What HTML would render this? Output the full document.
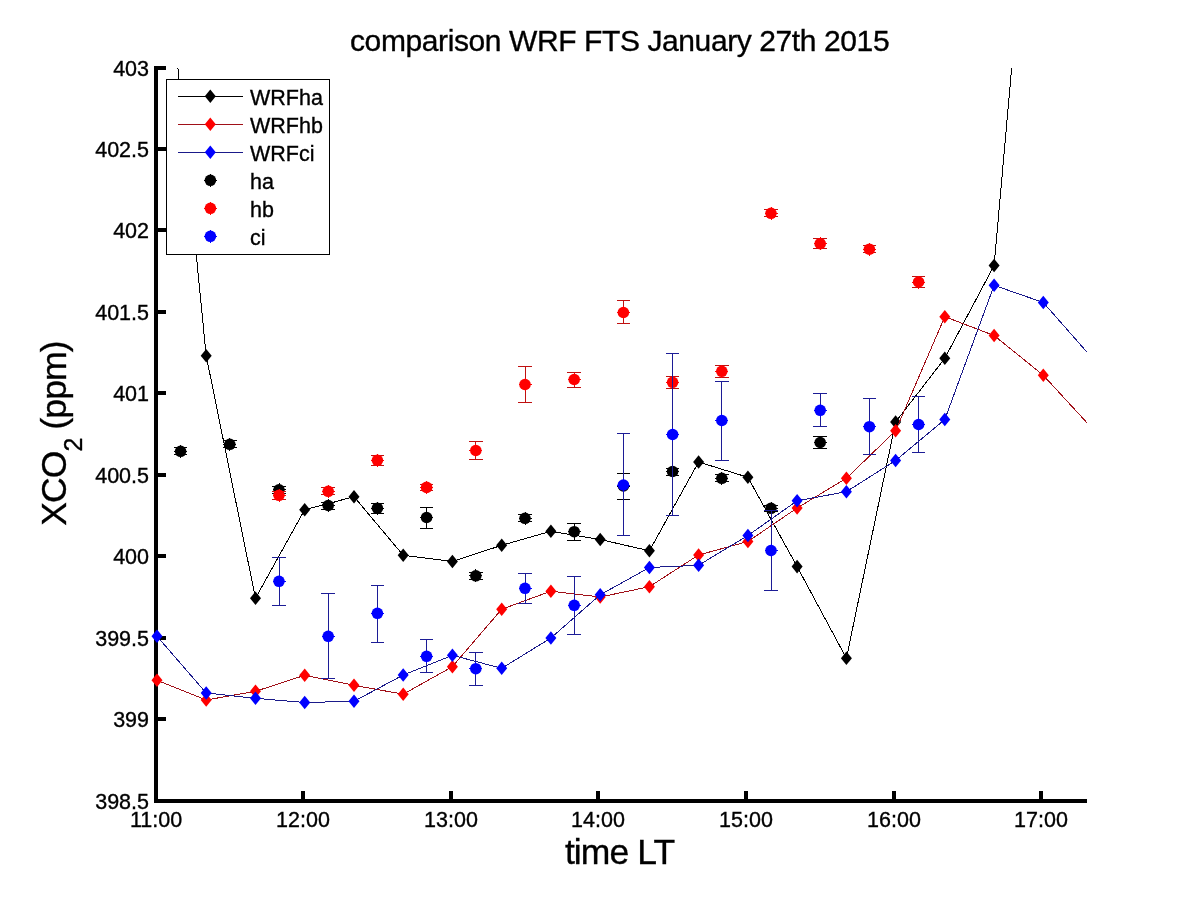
<!DOCTYPE html><html><head><meta charset="utf-8"><style>html,body{margin:0;padding:0;background:#fff;}svg{display:block;-webkit-font-smoothing:antialiased;will-change:transform;}text{font-family:"Liberation Sans",sans-serif;fill:#000;stroke:#000;stroke-width:0.35px;}</style></head><body>
<svg width="1200" height="900" viewBox="0 0 1200 900">
<rect width="1200" height="900" fill="#fff"/>
<defs><clipPath id="ax"><rect x="156" y="68" width="931" height="733"/></clipPath></defs>
<g shape-rendering="crispEdges" fill="#000">
<rect x="154" y="66" width="4" height="737"/>
<rect x="154" y="799" width="933" height="4"/>
<rect x="158" y="66" width="8" height="4"/>
<rect x="158" y="147" width="8" height="4"/>
<rect x="158" y="228" width="8" height="4"/>
<rect x="158" y="310" width="8" height="4"/>
<rect x="158" y="391" width="8" height="4"/>
<rect x="158" y="473" width="8" height="4"/>
<rect x="158" y="554" width="8" height="4"/>
<rect x="158" y="636" width="8" height="4"/>
<rect x="158" y="717" width="8" height="4"/>
<rect x="301" y="791" width="4" height="8"/>
<rect x="449" y="791" width="4" height="8"/>
<rect x="596" y="791" width="4" height="8"/>
<rect x="744" y="791" width="4" height="8"/>
<rect x="892" y="791" width="4" height="8"/>
<rect x="1039" y="791" width="4" height="8"/>
</g>
<g clip-path="url(#ax)"><polyline points="157.0,-144.2 206.2,355.8 255.5,598.3 304.7,509.7 354.0,496.7 403.2,555.3 452.4,561.5 501.7,545.3 550.9,531.3 600.2,539.5 649.4,550.8 698.6,462.0 747.9,477.3 797.1,566.6 846.4,658.3 895.6,422.0 944.8,358.3 994.1,265.5 1043.3,-287.6" fill="none" stroke="#000" stroke-width="1" shape-rendering="crispEdges"/></g>
<path d="M206.2 349.0L211.7 355.8L206.2 362.6L200.7 355.8Z" fill="#000"/><path d="M255.5 591.5L261.0 598.3L255.5 605.1L250.0 598.3Z" fill="#000"/><path d="M304.7 502.9L310.2 509.7L304.7 516.5L299.2 509.7Z" fill="#000"/><path d="M354.0 489.9L359.5 496.7L354.0 503.5L348.5 496.7Z" fill="#000"/><path d="M403.2 548.5L408.7 555.3L403.2 562.1L397.7 555.3Z" fill="#000"/><path d="M452.4 554.7L457.9 561.5L452.4 568.3L446.9 561.5Z" fill="#000"/><path d="M501.7 538.5L507.2 545.3L501.7 552.1L496.2 545.3Z" fill="#000"/><path d="M550.9 524.5L556.4 531.3L550.9 538.1L545.4 531.3Z" fill="#000"/><path d="M600.2 532.7L605.7 539.5L600.2 546.3L594.7 539.5Z" fill="#000"/><path d="M649.4 544.0L654.9 550.8L649.4 557.6L643.9 550.8Z" fill="#000"/><path d="M698.6 455.2L704.1 462.0L698.6 468.8L693.1 462.0Z" fill="#000"/><path d="M747.9 470.5L753.4 477.3L747.9 484.1L742.4 477.3Z" fill="#000"/><path d="M797.1 559.8L802.6 566.6L797.1 573.4L791.6 566.6Z" fill="#000"/><path d="M846.4 651.5L851.9 658.3L846.4 665.1L840.9 658.3Z" fill="#000"/><path d="M895.6 415.2L901.1 422.0L895.6 428.8L890.1 422.0Z" fill="#000"/><path d="M944.8 351.5L950.3 358.3L944.8 365.1L939.3 358.3Z" fill="#000"/><path d="M994.1 258.7L999.6 265.5L994.1 272.3L988.6 265.5Z" fill="#000"/>
<g clip-path="url(#ax)"><polyline points="157.0,680.3 206.2,700.0 255.5,691.3 304.7,675.3 354.0,685.3 403.2,694.2 452.4,666.7 501.7,609.2 550.9,591.2 600.2,597.0 649.4,586.7 698.6,555.0 747.9,541.5 797.1,508.0 846.4,478.3 895.6,430.8 944.8,316.7 994.1,335.5 1043.3,375.3 1092.6,428.9" fill="none" stroke="#a01018" stroke-width="1" shape-rendering="crispEdges"/></g>
<path d="M157.0 673.5L162.5 680.3L157.0 687.1L151.5 680.3Z" fill="#ff0000"/><path d="M206.2 693.2L211.7 700.0L206.2 706.8L200.7 700.0Z" fill="#ff0000"/><path d="M255.5 684.5L261.0 691.3L255.5 698.1L250.0 691.3Z" fill="#ff0000"/><path d="M304.7 668.5L310.2 675.3L304.7 682.1L299.2 675.3Z" fill="#ff0000"/><path d="M354.0 678.5L359.5 685.3L354.0 692.1L348.5 685.3Z" fill="#ff0000"/><path d="M403.2 687.4L408.7 694.2L403.2 701.0L397.7 694.2Z" fill="#ff0000"/><path d="M452.4 659.9L457.9 666.7L452.4 673.5L446.9 666.7Z" fill="#ff0000"/><path d="M501.7 602.4L507.2 609.2L501.7 616.0L496.2 609.2Z" fill="#ff0000"/><path d="M550.9 584.4L556.4 591.2L550.9 598.0L545.4 591.2Z" fill="#ff0000"/><path d="M600.2 590.2L605.7 597.0L600.2 603.8L594.7 597.0Z" fill="#ff0000"/><path d="M649.4 579.9L654.9 586.7L649.4 593.5L643.9 586.7Z" fill="#ff0000"/><path d="M698.6 548.2L704.1 555.0L698.6 561.8L693.1 555.0Z" fill="#ff0000"/><path d="M747.9 534.7L753.4 541.5L747.9 548.3L742.4 541.5Z" fill="#ff0000"/><path d="M797.1 501.2L802.6 508.0L797.1 514.8L791.6 508.0Z" fill="#ff0000"/><path d="M846.4 471.5L851.9 478.3L846.4 485.1L840.9 478.3Z" fill="#ff0000"/><path d="M895.6 424.0L901.1 430.8L895.6 437.6L890.1 430.8Z" fill="#ff0000"/><path d="M944.8 309.9L950.3 316.7L944.8 323.5L939.3 316.7Z" fill="#ff0000"/><path d="M994.1 328.7L999.6 335.5L994.1 342.3L988.6 335.5Z" fill="#ff0000"/><path d="M1043.3 368.5L1048.8 375.3L1043.3 382.1L1037.8 375.3Z" fill="#ff0000"/>
<g clip-path="url(#ax)"><polyline points="157.0,636.3 206.2,693.0 255.5,698.3 304.7,702.5 354.0,701.3 403.2,675.0 452.4,655.3 501.7,668.3 550.9,638.0 600.2,594.8 649.4,567.5 698.6,565.3 747.9,535.5 797.1,500.8 846.4,491.7 895.6,460.5 944.8,419.5 994.1,285.3 1043.3,302.5 1092.6,358.5" fill="none" stroke="#1a1a8a" stroke-width="1" shape-rendering="crispEdges"/></g>
<path d="M157.0 629.5L162.5 636.3L157.0 643.1L151.5 636.3Z" fill="#0000ff"/><path d="M206.2 686.2L211.7 693.0L206.2 699.8L200.7 693.0Z" fill="#0000ff"/><path d="M255.5 691.5L261.0 698.3L255.5 705.1L250.0 698.3Z" fill="#0000ff"/><path d="M304.7 695.7L310.2 702.5L304.7 709.3L299.2 702.5Z" fill="#0000ff"/><path d="M354.0 694.5L359.5 701.3L354.0 708.1L348.5 701.3Z" fill="#0000ff"/><path d="M403.2 668.2L408.7 675.0L403.2 681.8L397.7 675.0Z" fill="#0000ff"/><path d="M452.4 648.5L457.9 655.3L452.4 662.1L446.9 655.3Z" fill="#0000ff"/><path d="M501.7 661.5L507.2 668.3L501.7 675.1L496.2 668.3Z" fill="#0000ff"/><path d="M550.9 631.2L556.4 638.0L550.9 644.8L545.4 638.0Z" fill="#0000ff"/><path d="M600.2 588.0L605.7 594.8L600.2 601.6L594.7 594.8Z" fill="#0000ff"/><path d="M649.4 560.7L654.9 567.5L649.4 574.3L643.9 567.5Z" fill="#0000ff"/><path d="M698.6 558.5L704.1 565.3L698.6 572.1L693.1 565.3Z" fill="#0000ff"/><path d="M747.9 528.7L753.4 535.5L747.9 542.3L742.4 535.5Z" fill="#0000ff"/><path d="M797.1 494.0L802.6 500.8L797.1 507.6L791.6 500.8Z" fill="#0000ff"/><path d="M846.4 484.9L851.9 491.7L846.4 498.5L840.9 491.7Z" fill="#0000ff"/><path d="M895.6 453.7L901.1 460.5L895.6 467.3L890.1 460.5Z" fill="#0000ff"/><path d="M944.8 412.7L950.3 419.5L944.8 426.3L939.3 419.5Z" fill="#0000ff"/><path d="M994.1 278.5L999.6 285.3L994.1 292.1L988.6 285.3Z" fill="#0000ff"/><path d="M1043.3 295.7L1048.8 302.5L1043.3 309.3L1037.8 302.5Z" fill="#0000ff"/>
<path d="M180.6 447.8V454.8M173.8 447.8H187.4M173.8 454.8H187.4" stroke="#000" stroke-width="1" fill="none" shape-rendering="crispEdges"/><circle cx="180.6" cy="451.3" r="5.8" fill="#000"/><path d="M174.1 451.3H187.1M180.6 444.8V457.8" stroke="#000" stroke-width="1" shape-rendering="crispEdges"/><path d="M229.8 440.8V447.8M223.0 440.8H236.6M223.0 447.8H236.6" stroke="#000" stroke-width="1" fill="none" shape-rendering="crispEdges"/><circle cx="229.8" cy="444.3" r="5.8" fill="#000"/><path d="M223.3 444.3H236.3M229.8 437.8V450.8" stroke="#000" stroke-width="1" shape-rendering="crispEdges"/><path d="M279.0 486.5V493.3M272.2 486.5H285.8M272.2 493.3H285.8" stroke="#000" stroke-width="1" fill="none" shape-rendering="crispEdges"/><circle cx="279.0" cy="489.8" r="5.8" fill="#000"/><path d="M272.5 489.8H285.5M279.0 483.3V496.3" stroke="#000" stroke-width="1" shape-rendering="crispEdges"/><path d="M328.2 502.0V509.0M321.4 502.0H335.0M321.4 509.0H335.0" stroke="#000" stroke-width="1" fill="none" shape-rendering="crispEdges"/><circle cx="328.2" cy="505.5" r="5.8" fill="#000"/><path d="M321.7 505.5H334.7M328.2 499.0V512.0" stroke="#000" stroke-width="1" shape-rendering="crispEdges"/><path d="M377.4 503.3V513.3M370.6 503.3H384.2M370.6 513.3H384.2" stroke="#000" stroke-width="1" fill="none" shape-rendering="crispEdges"/><circle cx="377.4" cy="508.2" r="5.8" fill="#000"/><path d="M370.9 508.2H383.9M377.4 501.7V514.7" stroke="#000" stroke-width="1" shape-rendering="crispEdges"/><path d="M426.6 507.5V528.3M419.8 507.5H433.4M419.8 528.3H433.4" stroke="#000" stroke-width="1" fill="none" shape-rendering="crispEdges"/><circle cx="426.6" cy="517.5" r="5.8" fill="#000"/><path d="M420.1 517.5H433.1M426.6 511.0V524.0" stroke="#000" stroke-width="1" shape-rendering="crispEdges"/><path d="M475.8 572.3V579.3M469.0 572.3H482.6M469.0 579.3H482.6" stroke="#000" stroke-width="1" fill="none" shape-rendering="crispEdges"/><circle cx="475.8" cy="575.8" r="5.8" fill="#000"/><path d="M469.3 575.8H482.3M475.8 569.3V582.3" stroke="#000" stroke-width="1" shape-rendering="crispEdges"/><path d="M525.0 514.8V521.8M518.2 514.8H531.8M518.2 521.8H531.8" stroke="#000" stroke-width="1" fill="none" shape-rendering="crispEdges"/><circle cx="525.0" cy="518.3" r="5.8" fill="#000"/><path d="M518.5 518.3H531.5M525.0 511.8V524.8" stroke="#000" stroke-width="1" shape-rendering="crispEdges"/><path d="M574.2 523.3V540.0M567.4 523.3H581.0M567.4 540.0H581.0" stroke="#000" stroke-width="1" fill="none" shape-rendering="crispEdges"/><circle cx="574.2" cy="531.7" r="5.8" fill="#000"/><path d="M567.7 531.7H580.7M574.2 525.2V538.2" stroke="#000" stroke-width="1" shape-rendering="crispEdges"/><path d="M623.4 473.0V499.5M616.6 473.0H630.2M616.6 499.5H630.2" stroke="#000" stroke-width="1" fill="none" shape-rendering="crispEdges"/><circle cx="623.4" cy="486.0" r="5.8" fill="#000"/><path d="M616.9 486.0H629.9M623.4 479.5V492.5" stroke="#000" stroke-width="1" shape-rendering="crispEdges"/><path d="M672.6 468.0V475.0M665.8 468.0H679.4M665.8 475.0H679.4" stroke="#000" stroke-width="1" fill="none" shape-rendering="crispEdges"/><circle cx="672.6" cy="471.5" r="5.8" fill="#000"/><path d="M666.1 471.5H679.1M672.6 465.0V478.0" stroke="#000" stroke-width="1" shape-rendering="crispEdges"/><path d="M721.8 474.8V481.8M715.0 474.8H728.6M715.0 481.8H728.6" stroke="#000" stroke-width="1" fill="none" shape-rendering="crispEdges"/><circle cx="721.8" cy="478.3" r="5.8" fill="#000"/><path d="M715.3 478.3H728.3M721.8 471.8V484.8" stroke="#000" stroke-width="1" shape-rendering="crispEdges"/><path d="M771.0 505.0V511.7M764.2 505.0H777.8M764.2 511.7H777.8" stroke="#000" stroke-width="1" fill="none" shape-rendering="crispEdges"/><circle cx="771.0" cy="508.3" r="5.8" fill="#000"/><path d="M764.5 508.3H777.5M771.0 501.8V514.8" stroke="#000" stroke-width="1" shape-rendering="crispEdges"/><path d="M820.2 436.7V448.3M813.4 436.7H827.0M813.4 448.3H827.0" stroke="#000" stroke-width="1" fill="none" shape-rendering="crispEdges"/><circle cx="820.2" cy="442.5" r="5.8" fill="#000"/><path d="M813.7 442.5H826.7M820.2 436.0V449.0" stroke="#000" stroke-width="1" shape-rendering="crispEdges"/>
<path d="M279.0 491.3V499.5M272.2 491.3H285.8M272.2 499.5H285.8" stroke="#c01010" stroke-width="1" fill="none" shape-rendering="crispEdges"/><circle cx="279.0" cy="495.3" r="5.8" fill="#ff0000"/><path d="M272.5 495.3H285.5M279.0 488.8V501.8" stroke="#ff0000" stroke-width="1" shape-rendering="crispEdges"/><path d="M328.2 487.8V494.8M321.4 487.8H335.0M321.4 494.8H335.0" stroke="#c01010" stroke-width="1" fill="none" shape-rendering="crispEdges"/><circle cx="328.2" cy="491.3" r="5.8" fill="#ff0000"/><path d="M321.7 491.3H334.7M328.2 484.8V497.8" stroke="#ff0000" stroke-width="1" shape-rendering="crispEdges"/><path d="M377.4 455.7V465.3M370.6 455.7H384.2M370.6 465.3H384.2" stroke="#c01010" stroke-width="1" fill="none" shape-rendering="crispEdges"/><circle cx="377.4" cy="460.3" r="5.8" fill="#ff0000"/><path d="M370.9 460.3H383.9M377.4 453.8V466.8" stroke="#ff0000" stroke-width="1" shape-rendering="crispEdges"/><path d="M426.6 484.2V490.6M419.8 484.2H433.4M419.8 490.6H433.4" stroke="#c01010" stroke-width="1" fill="none" shape-rendering="crispEdges"/><circle cx="426.6" cy="487.4" r="5.8" fill="#ff0000"/><path d="M420.1 487.4H433.1M426.6 480.9V493.9" stroke="#ff0000" stroke-width="1" shape-rendering="crispEdges"/><path d="M475.8 441.3V459.5M469.0 441.3H482.6M469.0 459.5H482.6" stroke="#c01010" stroke-width="1" fill="none" shape-rendering="crispEdges"/><circle cx="475.8" cy="450.5" r="5.8" fill="#ff0000"/><path d="M469.3 450.5H482.3M475.8 444.0V457.0" stroke="#ff0000" stroke-width="1" shape-rendering="crispEdges"/><path d="M525.0 366.3V402.5M518.2 366.3H531.8M518.2 402.5H531.8" stroke="#c01010" stroke-width="1" fill="none" shape-rendering="crispEdges"/><circle cx="525.0" cy="384.5" r="5.8" fill="#ff0000"/><path d="M518.5 384.5H531.5M525.0 378.0V391.0" stroke="#ff0000" stroke-width="1" shape-rendering="crispEdges"/><path d="M574.2 372.2V387.5M567.4 372.2H581.0M567.4 387.5H581.0" stroke="#c01010" stroke-width="1" fill="none" shape-rendering="crispEdges"/><circle cx="574.2" cy="379.5" r="5.8" fill="#ff0000"/><path d="M567.7 379.5H580.7M574.2 373.0V386.0" stroke="#ff0000" stroke-width="1" shape-rendering="crispEdges"/><path d="M623.4 300.3V323.3M616.6 300.3H630.2M616.6 323.3H630.2" stroke="#c01010" stroke-width="1" fill="none" shape-rendering="crispEdges"/><circle cx="623.4" cy="312.5" r="5.8" fill="#ff0000"/><path d="M616.9 312.5H629.9M623.4 306.0V319.0" stroke="#ff0000" stroke-width="1" shape-rendering="crispEdges"/><path d="M672.6 376.7V388.3M665.8 376.7H679.4M665.8 388.3H679.4" stroke="#c01010" stroke-width="1" fill="none" shape-rendering="crispEdges"/><circle cx="672.6" cy="382.3" r="5.8" fill="#ff0000"/><path d="M666.1 382.3H679.1M672.6 375.8V388.8" stroke="#ff0000" stroke-width="1" shape-rendering="crispEdges"/><path d="M721.8 365.3V377.5M715.0 365.3H728.6M715.0 377.5H728.6" stroke="#c01010" stroke-width="1" fill="none" shape-rendering="crispEdges"/><circle cx="721.8" cy="371.3" r="5.8" fill="#ff0000"/><path d="M715.3 371.3H728.3M721.8 364.8V377.8" stroke="#ff0000" stroke-width="1" shape-rendering="crispEdges"/><path d="M771.0 209.8V216.8M764.2 209.8H777.8M764.2 216.8H777.8" stroke="#c01010" stroke-width="1" fill="none" shape-rendering="crispEdges"/><circle cx="771.0" cy="213.3" r="5.8" fill="#ff0000"/><path d="M764.5 213.3H777.5M771.0 206.8V219.8" stroke="#ff0000" stroke-width="1" shape-rendering="crispEdges"/><path d="M820.2 238.3V248.7M813.4 238.3H827.0M813.4 248.7H827.0" stroke="#c01010" stroke-width="1" fill="none" shape-rendering="crispEdges"/><circle cx="820.2" cy="243.7" r="5.8" fill="#ff0000"/><path d="M813.7 243.7H826.7M820.2 237.2V250.2" stroke="#ff0000" stroke-width="1" shape-rendering="crispEdges"/><path d="M869.4 245.7V252.7M862.6 245.7H876.2M862.6 252.7H876.2" stroke="#c01010" stroke-width="1" fill="none" shape-rendering="crispEdges"/><circle cx="869.4" cy="249.2" r="5.8" fill="#ff0000"/><path d="M862.9 249.2H875.9M869.4 242.7V255.7" stroke="#ff0000" stroke-width="1" shape-rendering="crispEdges"/><path d="M918.6 276.3V287.5M911.8 276.3H925.4M911.8 287.5H925.4" stroke="#c01010" stroke-width="1" fill="none" shape-rendering="crispEdges"/><circle cx="918.6" cy="282.0" r="5.8" fill="#ff0000"/><path d="M912.1 282.0H925.1M918.6 275.5V288.5" stroke="#ff0000" stroke-width="1" shape-rendering="crispEdges"/>
<path d="M279.0 557.2V605.3M272.2 557.2H285.8M272.2 605.3H285.8" stroke="#1c1c96" stroke-width="1" fill="none" shape-rendering="crispEdges"/><circle cx="279.0" cy="581.3" r="5.8" fill="#0000ff"/><path d="M272.5 581.3H285.5M279.0 574.8V587.8" stroke="#0000ff" stroke-width="1" shape-rendering="crispEdges"/><path d="M328.2 593.3V678.3M321.4 593.3H335.0M321.4 678.3H335.0" stroke="#1c1c96" stroke-width="1" fill="none" shape-rendering="crispEdges"/><circle cx="328.2" cy="636.3" r="5.8" fill="#0000ff"/><path d="M321.7 636.3H334.7M328.2 629.8V642.8" stroke="#0000ff" stroke-width="1" shape-rendering="crispEdges"/><path d="M377.4 585.3V642.2M370.6 585.3H384.2M370.6 642.2H384.2" stroke="#1c1c96" stroke-width="1" fill="none" shape-rendering="crispEdges"/><circle cx="377.4" cy="613.3" r="5.8" fill="#0000ff"/><path d="M370.9 613.3H383.9M377.4 606.8V619.8" stroke="#0000ff" stroke-width="1" shape-rendering="crispEdges"/><path d="M426.6 639.2V672.5M419.8 639.2H433.4M419.8 672.5H433.4" stroke="#1c1c96" stroke-width="1" fill="none" shape-rendering="crispEdges"/><circle cx="426.6" cy="656.3" r="5.8" fill="#0000ff"/><path d="M420.1 656.3H433.1M426.6 649.8V662.8" stroke="#0000ff" stroke-width="1" shape-rendering="crispEdges"/><path d="M475.8 652.2V685.0M469.0 652.2H482.6M469.0 685.0H482.6" stroke="#1c1c96" stroke-width="1" fill="none" shape-rendering="crispEdges"/><circle cx="475.8" cy="668.7" r="5.8" fill="#0000ff"/><path d="M469.3 668.7H482.3M475.8 662.2V675.2" stroke="#0000ff" stroke-width="1" shape-rendering="crispEdges"/><path d="M525.0 573.3V603.3M518.2 573.3H531.8M518.2 603.3H531.8" stroke="#1c1c96" stroke-width="1" fill="none" shape-rendering="crispEdges"/><circle cx="525.0" cy="588.3" r="5.8" fill="#0000ff"/><path d="M518.5 588.3H531.5M525.0 581.8V594.8" stroke="#0000ff" stroke-width="1" shape-rendering="crispEdges"/><path d="M574.2 576.5V634.5M567.4 576.5H581.0M567.4 634.5H581.0" stroke="#1c1c96" stroke-width="1" fill="none" shape-rendering="crispEdges"/><circle cx="574.2" cy="605.3" r="5.8" fill="#0000ff"/><path d="M567.7 605.3H580.7M574.2 598.8V611.8" stroke="#0000ff" stroke-width="1" shape-rendering="crispEdges"/><path d="M623.4 433.3V535.3M616.6 433.3H630.2M616.6 535.3H630.2" stroke="#1c1c96" stroke-width="1" fill="none" shape-rendering="crispEdges"/><circle cx="623.4" cy="485.0" r="5.8" fill="#0000ff"/><path d="M616.9 485.0H629.9M623.4 478.5V491.5" stroke="#0000ff" stroke-width="1" shape-rendering="crispEdges"/><path d="M672.6 353.3V515.3M665.8 353.3H679.4M665.8 515.3H679.4" stroke="#1c1c96" stroke-width="1" fill="none" shape-rendering="crispEdges"/><circle cx="672.6" cy="434.5" r="5.8" fill="#0000ff"/><path d="M666.1 434.5H679.1M672.6 428.0V441.0" stroke="#0000ff" stroke-width="1" shape-rendering="crispEdges"/><path d="M721.8 381.2V460.0M715.0 381.2H728.6M715.0 460.0H728.6" stroke="#1c1c96" stroke-width="1" fill="none" shape-rendering="crispEdges"/><circle cx="721.8" cy="420.5" r="5.8" fill="#0000ff"/><path d="M715.3 420.5H728.3M721.8 414.0V427.0" stroke="#0000ff" stroke-width="1" shape-rendering="crispEdges"/><path d="M771.0 510.0V590.5M764.2 510.0H777.8M764.2 590.5H777.8" stroke="#1c1c96" stroke-width="1" fill="none" shape-rendering="crispEdges"/><circle cx="771.0" cy="550.5" r="5.8" fill="#0000ff"/><path d="M764.5 550.5H777.5M771.0 544.0V557.0" stroke="#0000ff" stroke-width="1" shape-rendering="crispEdges"/><path d="M820.2 393.3V426.3M813.4 393.3H827.0M813.4 426.3H827.0" stroke="#1c1c96" stroke-width="1" fill="none" shape-rendering="crispEdges"/><circle cx="820.2" cy="410.3" r="5.8" fill="#0000ff"/><path d="M813.7 410.3H826.7M820.2 403.8V416.8" stroke="#0000ff" stroke-width="1" shape-rendering="crispEdges"/><path d="M869.4 398.3V454.5M862.6 398.3H876.2M862.6 454.5H876.2" stroke="#1c1c96" stroke-width="1" fill="none" shape-rendering="crispEdges"/><circle cx="869.4" cy="426.7" r="5.8" fill="#0000ff"/><path d="M862.9 426.7H875.9M869.4 420.2V433.2" stroke="#0000ff" stroke-width="1" shape-rendering="crispEdges"/><path d="M918.6 396.3V452.5M911.8 396.3H925.4M911.8 452.5H925.4" stroke="#1c1c96" stroke-width="1" fill="none" shape-rendering="crispEdges"/><circle cx="918.6" cy="424.5" r="5.8" fill="#0000ff"/><path d="M912.1 424.5H925.1M918.6 418.0V431.0" stroke="#0000ff" stroke-width="1" shape-rendering="crispEdges"/>
<text x="149" y="75.7" font-size="21.5" text-anchor="end">403</text>
<text x="149" y="156.7" font-size="21.5" text-anchor="end">402.5</text>
<text x="149" y="237.7" font-size="21.5" text-anchor="end">402</text>
<text x="149" y="319.7" font-size="21.5" text-anchor="end">401.5</text>
<text x="149" y="400.7" font-size="21.5" text-anchor="end">401</text>
<text x="149" y="482.7" font-size="21.5" text-anchor="end">400.5</text>
<text x="149" y="563.7" font-size="21.5" text-anchor="end">400</text>
<text x="149" y="645.7" font-size="21.5" text-anchor="end">399.5</text>
<text x="149" y="726.7" font-size="21.5" text-anchor="end">399</text>
<text x="149" y="808.7" font-size="21.5" text-anchor="end">398.5</text>
<text x="156" y="827" font-size="21.5" text-anchor="middle">11:00</text>
<text x="303" y="827" font-size="21.5" text-anchor="middle">12:00</text>
<text x="451" y="827" font-size="21.5" text-anchor="middle">13:00</text>
<text x="598" y="827" font-size="21.5" text-anchor="middle">14:00</text>
<text x="746" y="827" font-size="21.5" text-anchor="middle">15:00</text>
<text x="894" y="827" font-size="21.5" text-anchor="middle">16:00</text>
<text x="1041" y="827" font-size="21.5" text-anchor="middle">17:00</text>
<text x="619.6" y="50.8" font-size="30" letter-spacing="-0.4" text-anchor="middle">comparison WRF FTS January 27th 2015</text>
<text x="619.6" y="863.8" font-size="35.5" letter-spacing="-0.9" text-anchor="middle">time LT</text>
<g transform="translate(65.8,525.8) rotate(-90)"><text x="0" y="0" font-size="35.5" letter-spacing="-0.9">XCO<tspan font-size="25" dy="16.5">2</tspan><tspan dy="-16.5"> (ppm)</tspan></text></g>
<rect x="166.5" y="79.5" width="163" height="175" fill="#fff" stroke="#000" stroke-width="1"/>
<line x1="178" y1="96.3" x2="243" y2="96.3" stroke="#000" stroke-width="1" shape-rendering="crispEdges"/>
<path d="M210.3 89.5L215.8 96.3L210.3 103.1L204.8 96.3Z" fill="#000"/>
<text x="250" y="104.6" font-size="21.5">WRFha</text>
<line x1="178" y1="124.3" x2="243" y2="124.3" stroke="#a01018" stroke-width="1" shape-rendering="crispEdges"/>
<path d="M210.3 117.5L215.8 124.3L210.3 131.1L204.8 124.3Z" fill="#ff0000"/>
<text x="250" y="132.6" font-size="21.5">WRFhb</text>
<line x1="178" y1="152.3" x2="243" y2="152.3" stroke="#1a1a8a" stroke-width="1" shape-rendering="crispEdges"/>
<path d="M210.3 145.5L215.8 152.3L210.3 159.1L204.8 152.3Z" fill="#0000ff"/>
<text x="250" y="160.6" font-size="21.5">WRFci</text>
<circle cx="210.4" cy="180.3" r="5.8" fill="#000"/><path d="M203.9 180.3H216.9M210.4 173.8V186.8" stroke="#000" stroke-width="1" shape-rendering="crispEdges"/>
<text x="250" y="188.6" font-size="21.5">ha</text>
<circle cx="210.4" cy="208.3" r="5.8" fill="#ff0000"/><path d="M203.9 208.3H216.9M210.4 201.8V214.8" stroke="#ff0000" stroke-width="1" shape-rendering="crispEdges"/>
<text x="250" y="216.6" font-size="21.5">hb</text>
<circle cx="210.4" cy="236.3" r="5.8" fill="#0000ff"/><path d="M203.9 236.3H216.9M210.4 229.8V242.8" stroke="#0000ff" stroke-width="1" shape-rendering="crispEdges"/>
<text x="250" y="244.6" font-size="21.5">ci</text>
</svg></body></html>
